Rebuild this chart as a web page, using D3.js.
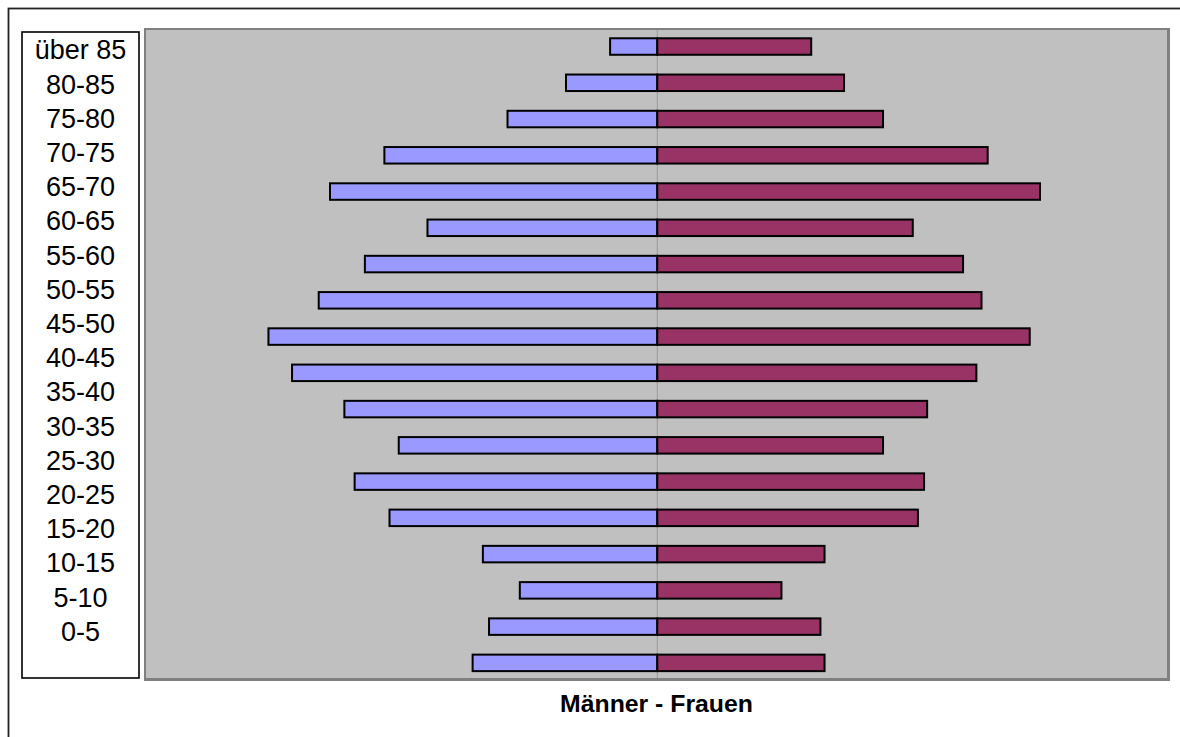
<!DOCTYPE html>
<html>
<head>
<meta charset="utf-8">
<script src="https://cdn.jsdelivr.net/npm/d3@7"></script>
<style>
  html, body { margin: 0; padding: 0; background: #ffffff; }
  svg { display: block; font-family: "Liberation Sans", Arial, sans-serif; }
</style>
</head>
<body>
<svg id="chart" width="1180" height="737"></svg>
<script>
// Age groups, oldest at the top
const ageGroups = ["über 85", "80-85", "75-80", "70-75", "65-70", "60-65", "55-60", "50-55",
  "45-50", "40-45", "35-40", "30-35", "25-30", "20-25", "15-20", "10-15", "5-10", "0-5"];

// Population per age group (same order as ageGroups)
const maenner = [46, 89, 146, 266, 319, 224, 285, 330, 379, 356, 305, 252, 295, 261, 170, 134, 164, 180];
const frauen  = [150, 182, 220, 322, 373, 249, 298, 316, 363, 311, 263, 220, 260, 254, 163, 121, 159, 163];

const xDomain = [-500, 500];
const titleText = "Männer - Frauen";

const svg = d3.select("#chart");

// Outer frame
svg.append("rect")
  .attr("x", 8.5).attr("y", 8.5)
  .attr("width", 1200).attr("height", 760)
  .attr("fill", "none").attr("stroke", "#222222").attr("stroke-width", 1.8);

// Plot area with a gray border, slightly heavier on right/bottom
const plot = { left: 144, top: 28, right: 1170, bottom: 681 };
svg.append("rect")
  .attr("x", plot.left).attr("y", plot.top)
  .attr("width", plot.right - plot.left).attr("height", plot.bottom - plot.top)
  .attr("fill", "#808080");
svg.append("rect")
  .attr("x", plot.left + 2).attr("y", plot.top + 2)
  .attr("width", plot.right - plot.left - 5).attr("height", plot.bottom - plot.top - 5)
  .attr("fill", "#c0c0c0");

const x = d3.scaleLinear().domain(xDomain).range([144.3, 1170.3]);
const y = d3.scaleBand()
  .domain(ageGroups)
  .range([28.4, 681])
  .paddingInner(0.545)
  .paddingOuter(0.2725);

// Zero line
svg.append("line")
  .attr("x1", x(0)).attr("x2", x(0))
  .attr("y1", plot.top + 2).attr("y2", plot.bottom - 3)
  .attr("stroke", "#9a9a9a").attr("stroke-width", 1);

const bars = svg.append("g");

bars.selectAll("rect.m")
  .data(ageGroups)
  .join("rect")
  .attr("class", "m")
  .attr("x", (d, i) => x(-maenner[i]))
  .attr("y", d => y(d))
  .attr("width", (d, i) => x(0) - x(-maenner[i]))
  .attr("height", y.bandwidth())
  .attr("fill", "#9999ff")
  .attr("stroke", "#000000")
  .attr("stroke-width", 2);

bars.selectAll("rect.f")
  .data(ageGroups)
  .join("rect")
  .attr("class", "f")
  .attr("x", x(0))
  .attr("y", d => y(d))
  .attr("width", (d, i) => x(frauen[i]) - x(0))
  .attr("height", y.bandwidth())
  .attr("fill", "#993366")
  .attr("stroke", "#000000")
  .attr("stroke-width", 2);

// Category label box
const box = { left: 22, top: 32, right: 139, bottom: 678 };
svg.append("rect")
  .attr("x", box.left).attr("y", box.top)
  .attr("width", box.right - box.left).attr("height", box.bottom - box.top)
  .attr("fill", "#ffffff").attr("stroke", "#000000").attr("stroke-width", 1.6);

const labelStep = 34.2;
svg.append("g").selectAll("text")
  .data(ageGroups)
  .join("text")
  .attr("x", (box.left + box.right) / 2)
  .attr("y", (d, i) => 59.3 + i * labelStep)
  .attr("text-anchor", "middle")
  .attr("font-size", 27)
  .attr("fill", "#000000")
  .text(d => d);

// Axis title
svg.append("text")
  .attr("x", 656.5).attr("y", 712)
  .attr("text-anchor", "middle")
  .attr("font-size", 24.8)
  .attr("font-weight", "bold")
  .attr("fill", "#000000")
  .text(titleText);
</script>
</body>
</html>
